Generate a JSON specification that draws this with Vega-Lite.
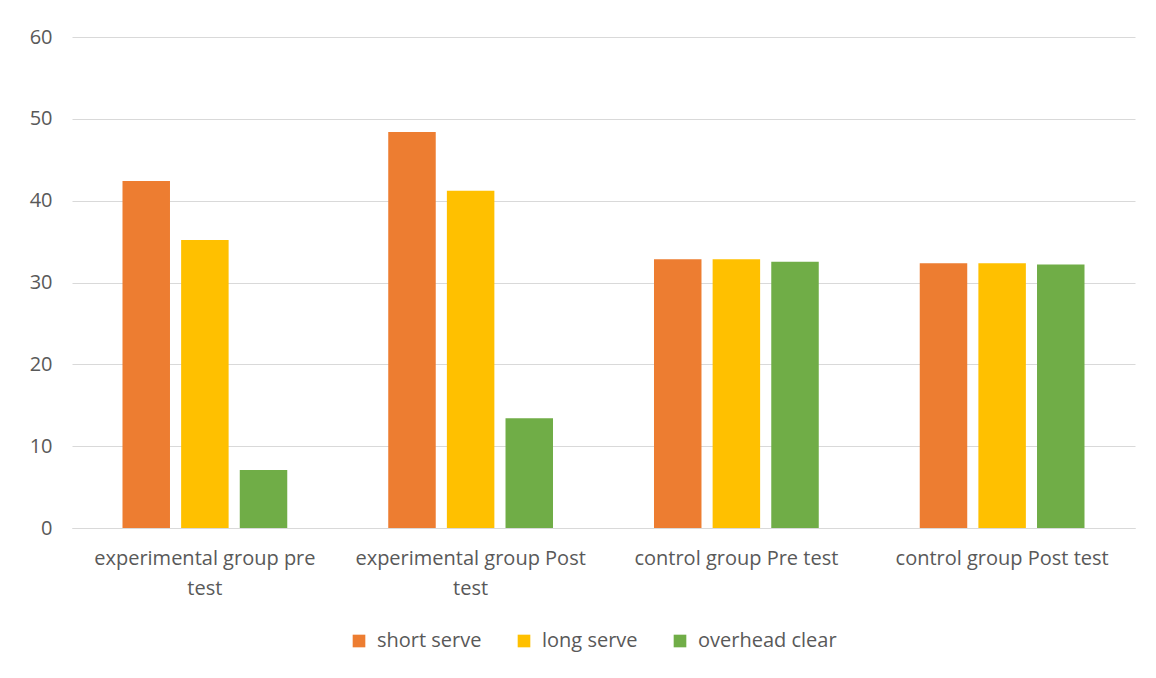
{
  "$schema": "https://vega.github.io/schema/vega-lite/v6.json",
  "width": 1063,
  "height": 491,
  "autosize": "none",
  "padding": {"left": 72, "top": 37, "right": 21, "bottom": 150},
  "background": "white",
  "data": {
    "values": [
      {"group": "experimental group pre test", "skill": "short serve", "value": 42.4},
      {"group": "experimental group pre test", "skill": "long serve", "value": 35.2},
      {"group": "experimental group pre test", "skill": "overhead clear", "value": 7.1},
      {"group": "experimental group Post test", "skill": "short serve", "value": 48.4},
      {"group": "experimental group Post test", "skill": "long serve", "value": 41.2},
      {"group": "experimental group Post test", "skill": "overhead clear", "value": 13.4},
      {"group": "control group Pre test", "skill": "short serve", "value": 32.85},
      {"group": "control group Pre test", "skill": "long serve", "value": 32.85},
      {"group": "control group Pre test", "skill": "overhead clear", "value": 32.55},
      {"group": "control group Post test", "skill": "short serve", "value": 32.35},
      {"group": "control group Post test", "skill": "long serve", "value": 32.35},
      {"group": "control group Post test", "skill": "overhead clear", "value": 32.2}
    ]
  },
  "config": {
    "view": {"stroke": null},
    "font": "Open Sans",
    "axis": {"labelFont": "Open Sans", "labelColor": "#595959", "labelFontSize": 20}
  },
  "mark": {"type": "bar"},
  "encoding": {
    "x": {
      "field": "group",
      "type": "nominal",
      "sort": null,
      "scale": {"paddingInner": 0.38, "paddingOuter": 0.19},
      "axis": {
        "title": null,
        "labelAngle": 0,
        "ticks": false,
        "domainColor": "#d9d9d9",
        "labelPadding": 20,
        "labelLineHeight": 30,
        "labelLimit": 300,
        "labelExpr": "datum.label == 'experimental group pre test' ? ['experimental group pre', 'test'] : datum.label == 'experimental group Post test' ? ['experimental group Post', 'test'] : datum.label"
      }
    },
    "xOffset": {
      "field": "skill",
      "type": "nominal",
      "sort": ["short serve", "long serve", "overhead clear"],
      "scale": {"paddingInner": 0.19}
    },
    "y": {
      "field": "value",
      "type": "quantitative",
      "scale": {"domain": [0, 60], "nice": false},
      "axis": {
        "title": null,
        "values": [0, 10, 20, 30, 40, 50, 60],
        "labelOverlap": false,
        "domain": false,
        "ticks": false,
        "gridColor": "#d9d9d9",
        "labelPadding": 20
      }
    },
    "color": {
      "field": "skill",
      "type": "nominal",
      "sort": ["short serve", "long serve", "overhead clear"],
      "scale": {"domain": ["short serve", "long serve", "overhead clear"], "range": ["#ED7D31", "#FFC000", "#70AD47"]},
      "legend": {
        "title": null,
        "orient": "none",
        "direction": "horizontal",
        "legendX": 277,
        "legendY": 594,
        "symbolType": "square",
        "symbolSize": 160,
        "symbolStrokeWidth": 0,
        "labelFontSize": 20,
        "labelColor": "#595959",
        "labelFont": "Open Sans",
        "columnPadding": 32,
        "labelOffset": 8
      }
    }
  }
}
